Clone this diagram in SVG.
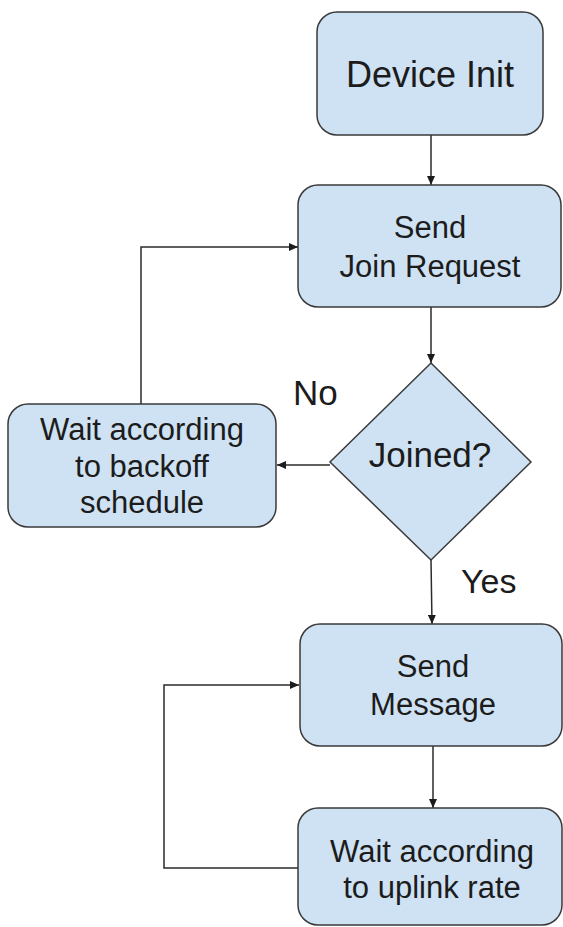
<svg xmlns="http://www.w3.org/2000/svg" width="563" height="927" viewBox="0 0 563 927">
  <style>
    .box { fill: #cfe2f3; stroke: #3a3a3a; stroke-width: 1.5; }
    .edge { fill: none; stroke: #2b2b2b; stroke-width: 1.5; marker-end: url(#arrow); }
    .line { fill: none; stroke: #2b2b2b; stroke-width: 1.5; }
    text { font-family: "Liberation Sans", Arial, sans-serif; fill: #1c1c1c; text-anchor: middle; }
    .t31 { font-size: 31px; }
    .big { font-size: 35px; }
    .lbl { font-size: 34px; text-anchor: start; }
  </style>
  <defs>
    <marker id="arrow" markerUnits="userSpaceOnUse" markerWidth="10" markerHeight="8" refX="9" refY="4" orient="auto">
      <path d="M0,0 L9,4 L0,8 z" fill="#1c1c1c"/>
    </marker>
  </defs>

  <rect width="563" height="927" fill="#ffffff"/>

  <!-- connectors -->
  <g id="connectors">
    <line class="edge" x1="431" y1="135" x2="431" y2="185"/>
    <line class="edge" x1="431" y1="307" x2="431" y2="363"/>
    <line class="edge" x1="330" y1="465" x2="277" y2="465"/>
    <polyline class="edge" points="141,404 141,247 298,247"/>
    <line class="edge" x1="431" y1="560" x2="432" y2="624"/>
    <line class="edge" x1="433" y1="746" x2="433" y2="808"/>
    <polyline class="edge" points="298,868 164,868 164,685 299,685"/>
  </g>

  <!-- nodes -->
  <g id="device-init">
    <rect class="box" x="317" y="12" width="226" height="123" rx="20"/>
    <text class="big" x="430" y="87" style="font-size:36px">Device Init</text>
  </g>

  <g id="send-join">
    <rect class="box" x="298" y="185" width="263" height="122" rx="20"/>
    <text class="t31" x="430" y="238">Send</text>
    <text class="t31" x="430" y="277">Join Request</text>
  </g>

  <g id="joined">
    <polygon class="box" points="431,363 531,462 431,560 330,462"/>
    <text class="big" x="430" y="467">Joined?</text>
  </g>

  <g id="backoff">
    <rect class="box" x="8" y="404" width="268" height="123" rx="20"/>
    <text class="t31" x="142" y="440">Wait according</text>
    <text class="t31" x="142" y="477">to backoff</text>
    <text class="t31" x="142" y="513">schedule</text>
  </g>

  <g id="send-message">
    <rect class="box" x="300" y="624" width="262" height="122" rx="20"/>
    <text class="t31" x="433" y="677">Send</text>
    <text class="t31" x="433" y="715">Message</text>
  </g>

  <g id="uplink-wait">
    <rect class="box" x="298" y="808" width="264" height="117" rx="20"/>
    <text class="t31" x="432" y="862">Wait according</text>
    <text class="t31" x="432" y="898">to uplink rate</text>
  </g>

  <!-- branch labels -->
  <g id="labels">
    <text class="lbl" x="293" y="405" style="font-size:35px">No</text>
    <text class="lbl" x="461" y="593">Yes</text>
  </g>
</svg>
